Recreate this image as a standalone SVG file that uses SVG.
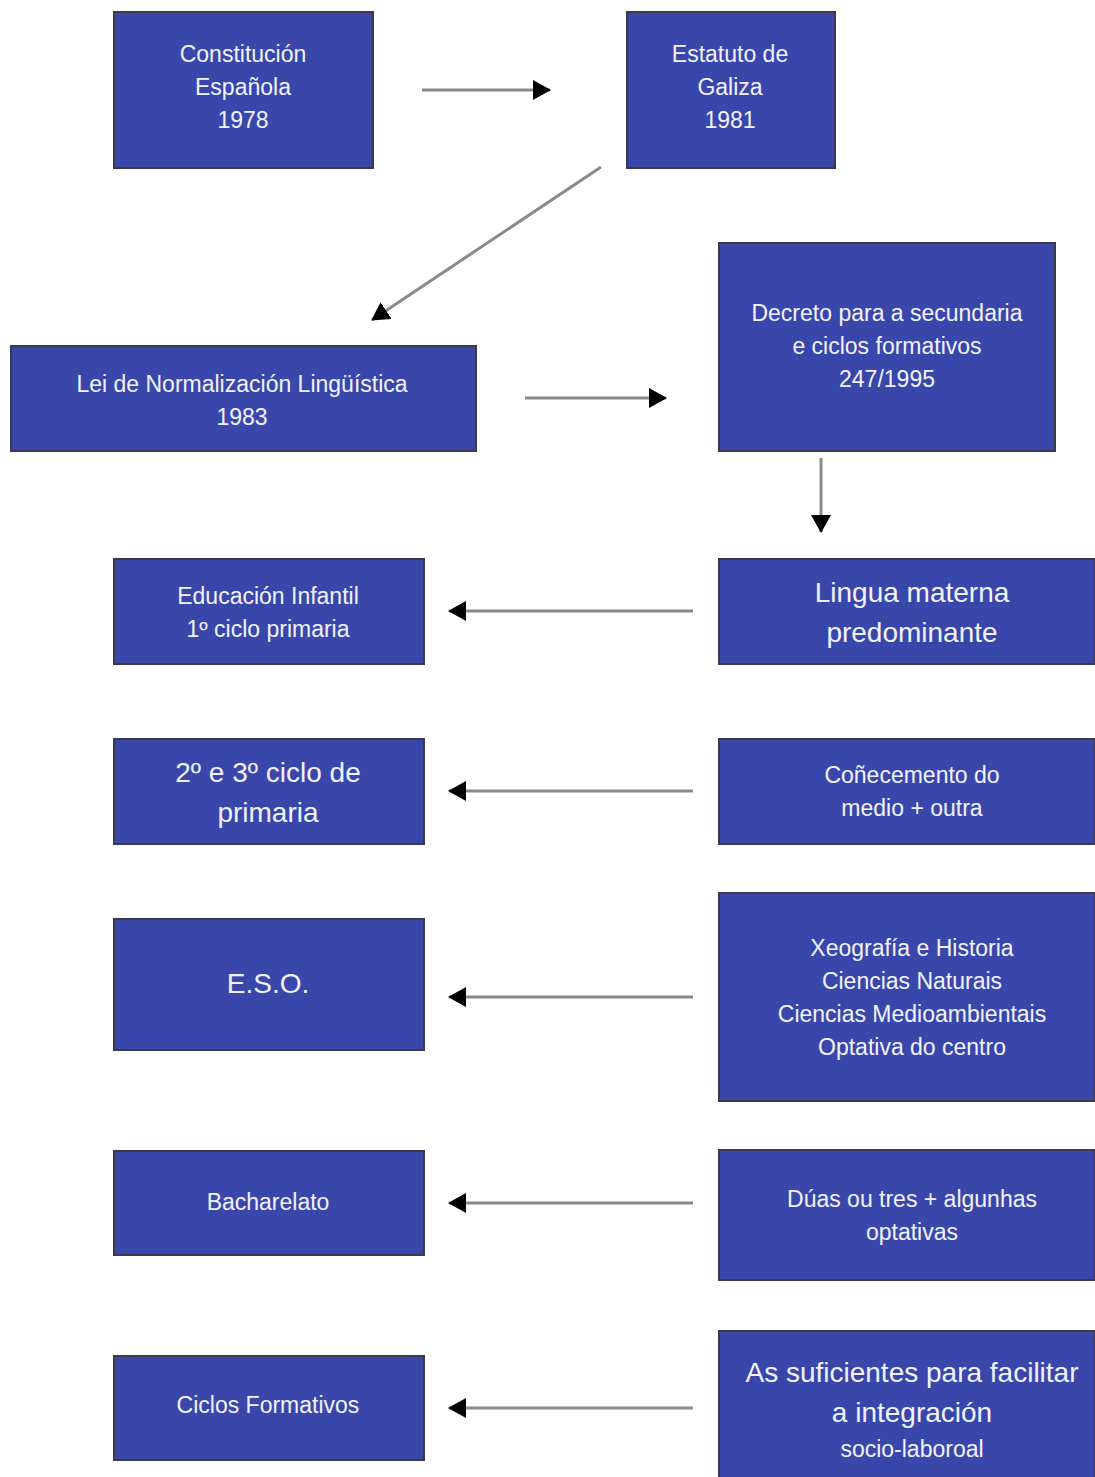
<svg xmlns="http://www.w3.org/2000/svg" width="1095" height="1477" viewBox="0 0 1095 1477">
<style>
.box{fill:#3a47aa;stroke:#3a3a4c;stroke-width:2}
.t{font-family:"Liberation Sans",Arial,sans-serif;fill:#f2f2ff;text-anchor:middle;font-size:23px}
.b{font-size:28px}
.c{fill:none;stroke:#8a8a8a;stroke-width:3}
</style>
<defs>
<marker id="ah" viewBox="0 0 18 20" refX="17" refY="10" markerWidth="18" markerHeight="20" markerUnits="userSpaceOnUse" orient="auto">
<path d="M0,0 L18,10 L0,20 Z" fill="#000"/>
</marker>
</defs>
<rect width="1095" height="1477" fill="#fff"/>
<g id="constitucion"><rect class="box" x="114" y="12" width="259" height="156"/>
<text class="t" x="243" y="62">Constitución</text><text class="t" x="243" y="95">Española</text><text class="t" x="243" y="128">1978</text></g>
<g id="estatuto"><rect class="box" x="627" y="12" width="208" height="156"/>
<text class="t" x="730" y="62">Estatuto de</text><text class="t" x="730" y="95">Galiza</text><text class="t" x="730" y="128">1981</text></g>
<g id="lei"><rect class="box" x="11" y="346" width="465" height="105"/>
<text class="t" x="242" y="392">Lei de Normalización Lingüística</text><text class="t" x="242" y="425">1983</text></g>
<g id="decreto"><rect class="box" x="719" y="243" width="336" height="208"/>
<text class="t" x="887" y="321">Decreto para a secundaria</text><text class="t" x="887" y="354">e ciclos formativos</text><text class="t" x="887" y="387">247/1995</text></g>
<g id="infantil"><rect class="box" x="114" y="559" width="310" height="105"/>
<text class="t" x="268" y="604">Educación Infantil</text><text class="t" x="268" y="637">1º ciclo primaria</text></g>
<g id="lingua"><rect class="box" x="719" y="559" width="376" height="105"/>
<text class="t b" x="912" y="602">Lingua materna</text><text class="t b" x="912" y="642">predominante</text></g>
<g id="primaria"><rect class="box" x="114" y="739" width="310" height="105"/>
<text class="t b" x="268" y="782">2º e 3º ciclo de</text><text class="t b" x="268" y="822">primaria</text></g>
<g id="conecemento"><rect class="box" x="719" y="739" width="376" height="105"/>
<text class="t" x="912" y="783">Coñecemento do</text><text class="t" x="912" y="816">medio + outra</text></g>
<g id="eso"><rect class="box" x="114" y="919" width="310" height="131"/>
<text class="t b" x="268" y="993">E.S.O.</text></g>
<g id="xeografia"><rect class="box" x="719" y="893" width="376" height="208"/>
<text class="t" x="912" y="956">Xeografía e Historia</text><text class="t" x="912" y="989">Ciencias Naturais</text><text class="t" x="912" y="1022">Ciencias Medioambientais</text><text class="t" x="912" y="1055">Optativa do centro</text></g>
<g id="bacharelato"><rect class="box" x="114" y="1151" width="310" height="104"/>
<text class="t" x="268" y="1210">Bacharelato</text></g>
<g id="duas"><rect class="box" x="719" y="1150" width="376" height="130"/>
<text class="t" x="912" y="1207">Dúas ou tres + algunhas</text><text class="t" x="912" y="1240">optativas</text></g>
<g id="ciclos"><rect class="box" x="114" y="1356" width="310" height="104"/>
<text class="t" x="268" y="1413">Ciclos Formativos</text></g>
<g id="suficientes"><rect class="box" x="719" y="1331" width="376" height="150"/>
<text class="t b" x="912" y="1382">As suficientes para facilitar</text><text class="t b" x="912" y="1422">a integración</text><text class="t" x="912" y="1457">socio-laboroal</text></g>
<g id="connectors">
<line class="c" x1="422" y1="90" x2="550" y2="90" marker-end="url(#ah)"/>
<line class="c" x1="601" y1="167" x2="372" y2="320" marker-end="url(#ah)"/>
<line class="c" x1="525" y1="398" x2="666" y2="398" marker-end="url(#ah)"/>
<line class="c" x1="821" y1="458" x2="821" y2="532" marker-end="url(#ah)"/>
<line class="c" x1="693" y1="611" x2="449" y2="611" marker-end="url(#ah)"/>
<line class="c" x1="693" y1="791" x2="449" y2="791" marker-end="url(#ah)"/>
<line class="c" x1="693" y1="997" x2="449" y2="997" marker-end="url(#ah)"/>
<line class="c" x1="693" y1="1203" x2="449" y2="1203" marker-end="url(#ah)"/>
<line class="c" x1="693" y1="1408" x2="449" y2="1408" marker-end="url(#ah)"/>
</g>
</svg>
